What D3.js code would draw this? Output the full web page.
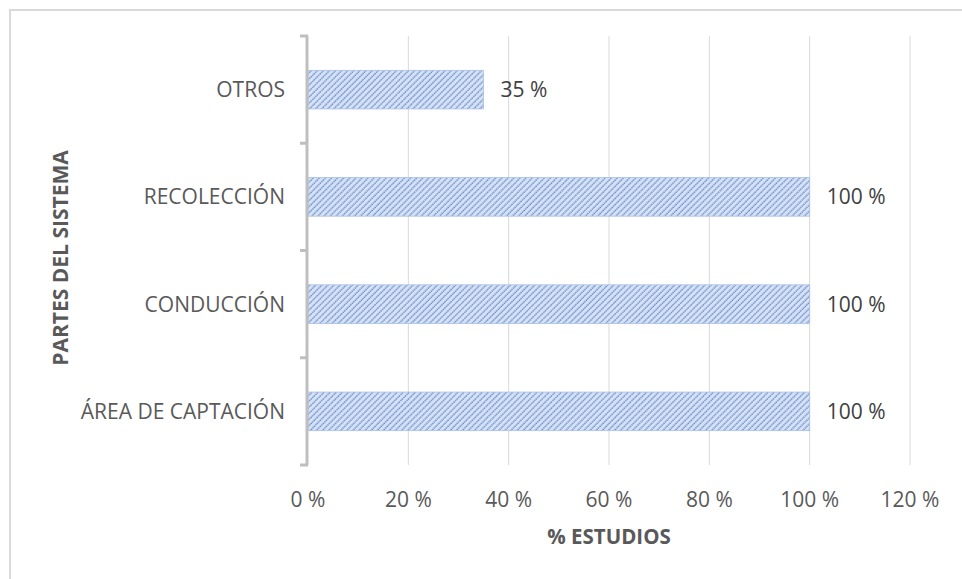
<!DOCTYPE html>
<html>
<head>
<meta charset="utf-8">
<script src="https://cdn.jsdelivr.net/npm/d3@7"></script>
<style>
  html, body { margin: 0; padding: 0; background: #fff; }
  svg { display: block; font-family: "Open Sans", "Noto Sans", sans-serif; }
</style>
</head>
<body>
<svg id="chart" width="962" height="579"></svg>
<script>
// Parts of the rainwater harvesting system and share of studies covering each
const categories = ["ÁREA DE CAPTACIÓN", "CONDUCCIÓN", "RECOLECCIÓN", "OTROS"];
const values = [100, 100, 100, 35];
const xTicks = [0, 20, 40, 60, 80, 100, 120];

const svg = d3.select("#chart");
const W = 962, H = 579;
const margin = { left: 308, right: 52, top: 36, bottom: 114 };
const innerW = W - margin.left - margin.right;
const innerH = H - margin.top - margin.bottom;
const FS = 21;

// Chart area frame (top and left edges)
svg.append("path")
  .attr("d", `M10,${H} L10,10 L${W},10`)
  .attr("fill", "none")
  .attr("stroke", "#d9d9d9")
  .attr("stroke-width", 2);

// Hatched fill for the bars
const P = 4.3;
const defs = svg.append("defs");
const pat = defs.append("pattern")
  .attr("id", "hatch")
  .attr("patternUnits", "userSpaceOnUse")
  .attr("width", P).attr("height", P)
  .attr("patternTransform", "rotate(45)");
pat.append("rect").attr("width", P).attr("height", P).attr("fill", "#d6e1f4");
pat.append("line")
  .attr("x1", 1).attr("y1", 0).attr("x2", 1).attr("y2", P)
  .attr("stroke", "#4a7ac8").attr("stroke-width", 1.1)
  .attr("stroke-dasharray", "1.6,0.55");

const x = d3.scaleLinear().domain([0, 120]).range([0, innerW]);
const y = d3.scaleBand().domain(categories.slice().reverse()).range([0, innerH]).paddingInner(0.64).paddingOuter(0.32);

const g = svg.append("g").attr("transform", `translate(${margin.left},${margin.top})`);

// Vertical gridlines
g.selectAll(".grid").data(xTicks.filter(t => t > 0)).join("line")
  .attr("x1", d => x(d)).attr("x2", d => x(d))
  .attr("y1", 0).attr("y2", innerH)
  .attr("stroke", "#d9d9d9").attr("stroke-width", 1);

// X tick labels
g.selectAll(".xt").data(xTicks).join("text")
  .attr("x", d => x(d)).attr("y", innerH + 42)
  .attr("text-anchor", "middle")
  .attr("font-size", FS).attr("fill", "#595959")
  .text(d => d + " %");

// Bars
g.selectAll(".bar").data(categories).join("rect")
  .attr("x", 0)
  .attr("y", d => y(d))
  .attr("width", (d, i) => x(values[i]))
  .attr("height", y.bandwidth())
  .attr("fill", "url(#hatch)")
  .attr("stroke", "#a9c0e4").attr("stroke-width", 0.8);

// Value labels
g.selectAll(".val").data(categories).join("text")
  .attr("x", (d, i) => x(values[i]) + 17)
  .attr("y", d => y(d) + y.bandwidth() / 2 + 7.5)
  .attr("font-size", FS).attr("fill", "#404040")
  .text((d, i) => values[i] + " %");

// Category axis line with ticks between categories
const yAxisG = g.append("g");
yAxisG.append("line")
  .attr("x1", -1).attr("x2", -1).attr("y1", 0).attr("y2", innerH)
  .attr("stroke", "#bfbfbf").attr("stroke-width", 3);
const step = innerH / categories.length;
yAxisG.selectAll(".tk").data(d3.range(categories.length + 1)).join("line")
  .attr("x1", -8).attr("x2", 0)
  .attr("y1", d => d * step).attr("y2", d => d * step)
  .attr("stroke", "#bfbfbf").attr("stroke-width", 3);

// Category labels
g.selectAll(".cat").data(categories).join("text")
  .attr("x", -23)
  .attr("y", d => y(d) + y.bandwidth() / 2 + 7.5)
  .attr("text-anchor", "end")
  .attr("font-size", FS).attr("fill", "#595959")
  .text(d => d);

// Axis titles
svg.append("text")
  .attr("x", margin.left + x(60)).attr("y", 544)
  .attr("text-anchor", "middle")
  .attr("font-size", 20.5).attr("font-weight", "bold").attr("fill", "#595959")
  .text("% ESTUDIOS");

svg.append("text")
  .attr("transform", `translate(68,258) rotate(-90)`)
  .attr("text-anchor", "middle")
  .attr("font-size", 21).attr("font-weight", "bold").attr("fill", "#595959")
  .text("PARTES DEL SISTEMA");
</script>
</body>
</html>
